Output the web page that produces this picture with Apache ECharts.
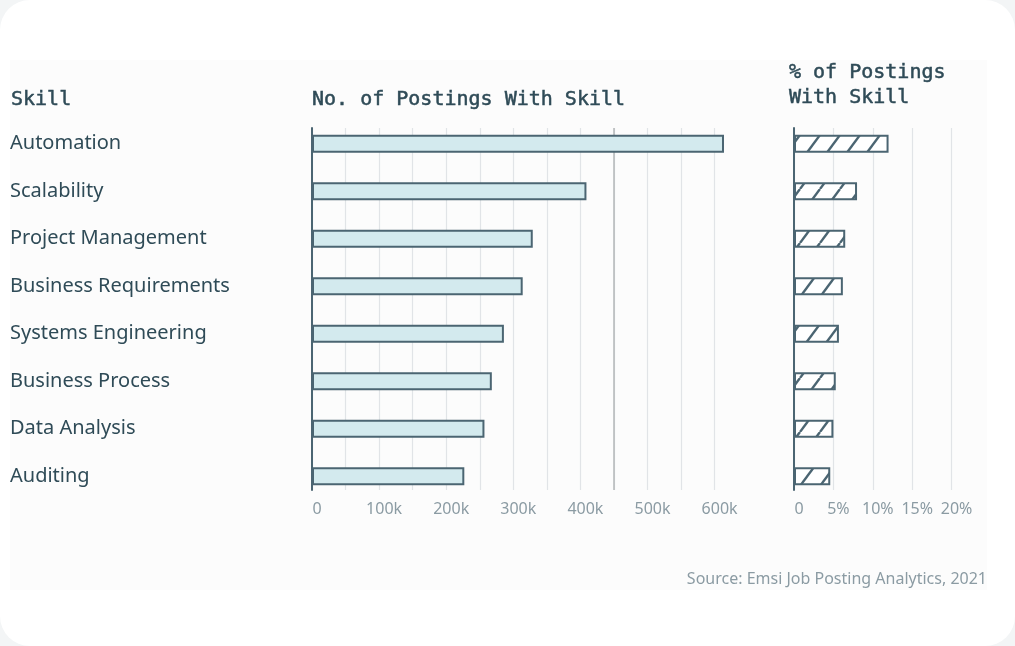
<!DOCTYPE html>
<html>
<head>
<meta charset="utf-8">
<style>
  html, body { margin: 0; padding: 0; background: #f3f5f6; }
  #chart { width: 1015px; height: 646px; background: #ffffff; border-radius: 30px; overflow: hidden; }
</style>
<script src="https://cdn.jsdelivr.net/npm/echarts@6/dist/echarts.min.js"></script>
</head>
<body>
<div id="chart"></div>
<script>
// Top in-demand skills and how many job postings ask for them
const skills = [
  'Automation',
  'Scalability',
  'Project Management',
  'Business Requirements',
  'Systems Engineering',
  'Business Process',
  'Data Analysis',
  'Auditing'
];
const postings = [614000, 409000, 329000, 314000, 286000, 268000, 257000, 227000];
const postingsShare = [12.0, 8.0, 6.5, 6.2, 5.7, 5.3, 5.0, 4.6];
const countTicks = ['0', '100k', '200k', '300k', '400k', '500k', '600k'];
const shareTicks = ['0', '5%', '10%', '15%', '20%'];
const referenceCount = 450000;

const INK = '#2f4b57';
const EDGE = '#4b6572';
const MUTED = '#8b9ba3';
const GRID = '#e1e4e7';
const SANS = '"Noto Sans", "Open Sans", sans-serif';
const MONO = '"DejaVu Sans Mono", "Liberation Mono", monospace';

// Diagonal hatch tile for the share bars
function hatchTile() {
  const c = document.createElement('canvas');
  c.width = 20; c.height = 27;
  const g = c.getContext('2d');
  g.fillStyle = '#ffffff';
  g.fillRect(0, 0, 20, 27);
  g.strokeStyle = EDGE;
  g.lineWidth = 2.4;
  [-20, 0, 20].forEach(function (x0) {
    g.beginPath();
    g.moveTo(x0, 27);
    g.lineTo(x0 + 20, 0);
    g.stroke();
  });
  return c;
}

const chart = echarts.init(document.getElementById('chart'), null, { renderer: 'canvas' });

const barTop = 120, barH = 380;      // category bands
const frameTop = 128, frameH = 362;  // axis frame + grid lines
const leftX = 312, leftW = 402.6;    // counts panel
const rightX = 794, rightW = 157.6;  // share panel

const headStyle = {
  fontFamily: MONO, fontSize: 20, fontWeight: 'normal', color: INK,
  textBorderColor: INK, textBorderWidth: 0.5, lineHeight: 25
};

const option = {
  backgroundColor: 'transparent',
  animation: false,
  graphic: [{
    type: 'rect',
    z: -10,
    shape: { x: 10, y: 60, width: 977, height: 530 },
    style: { fill: '#fcfcfc' }
  }, {
    type: 'text',
    right: 28,
    top: 571,
    style: {
      text: 'Source: Emsi Job Posting Analytics, 2021',
      font: '16px ' + SANS,
      fill: MUTED
    }
  }],
  title: [
    { text: 'Skill', left: 11, top: 87, padding: 0, textStyle: headStyle },
    { text: 'No. of Postings With Skill', left: 312, top: 87, padding: 0, textStyle: headStyle },
    { text: '% of Postings\nWith Skill', left: 789, top: 60, padding: 0, textStyle: headStyle }
  ],
  grid: [
    { left: leftX, top: barTop, width: leftW, height: barH },
    { left: leftX, top: frameTop, width: leftW, height: frameH },
    { left: rightX, top: barTop, width: rightW, height: barH },
    { left: rightX, top: frameTop, width: rightW, height: frameH }
  ],
  xAxis: [
    { gridIndex: 0, type: 'value', min: 0, max: 600000, show: false },
    { gridIndex: 1, type: 'value', min: 0, max: 600000, interval: 50000,
      axisLine: { show: false }, axisTick: { show: false },
      splitLine: { show: true, lineStyle: { color: GRID, width: 1.2 } },
      axisLabel: {
        color: MUTED, fontFamily: SANS, fontSize: 16, margin: 11, padding: [0, 0, 0, 10],
        formatter: function (v) { return v % 100000 === 0 ? countTicks[v / 100000] : ''; }
      } },
    { gridIndex: 2, type: 'value', min: 0, max: 20, show: false },
    { gridIndex: 3, type: 'value', min: 0, max: 20, interval: 5,
      axisLine: { show: false }, axisTick: { show: false },
      splitLine: { show: true, lineStyle: { color: GRID, width: 1.2 } },
      axisLabel: {
        color: MUTED, fontFamily: SANS, fontSize: 16, margin: 11, padding: [0, 0, 0, 10],
        formatter: function (v) { return shareTicks[v / 5]; }
      } }
  ],
  yAxis: [
    { gridIndex: 0, type: 'category', data: skills, inverse: true,
      axisLine: { show: false }, axisTick: { show: false },
      axisLabel: { color: INK, fontFamily: SANS, fontSize: 20, align: 'left',
        margin: leftX - 10, padding: [4, 0, 0, 0] } },
    { gridIndex: 1, type: 'value', min: 0, max: 1, splitLine: { show: false },
      axisLabel: { show: false }, axisTick: { show: false },
      axisLine: { show: true, lineStyle: { color: EDGE, width: 2 } } },
    { gridIndex: 2, type: 'category', data: skills, inverse: true, show: false },
    { gridIndex: 3, type: 'value', min: 0, max: 1, splitLine: { show: false },
      axisLabel: { show: false }, axisTick: { show: false },
      axisLine: { show: true, lineStyle: { color: EDGE, width: 2 } } }
  ],
  series: [
    { type: 'bar', xAxisIndex: 0, yAxisIndex: 0, data: postings, barWidth: 18, clip: false, z: 5,
      itemStyle: { color: '#d3eaee', borderColor: EDGE, borderWidth: 2 } },
    // darker guide line at 450k, confined to the axis frame
    { type: 'line', xAxisIndex: 1, yAxisIndex: 1, data: [], z: 1,
      markLine: {
        silent: true, symbol: 'none', label: { show: false },
        lineStyle: { color: '#b3b7b9', width: 1.5, type: 'solid' },
        data: [{ xAxis: referenceCount }]
      } },
    { type: 'bar', xAxisIndex: 2, yAxisIndex: 2, data: postingsShare, barWidth: 18, z: 5,
      itemStyle: { color: { image: hatchTile(), repeat: 'repeat' }, borderColor: EDGE, borderWidth: 2 } }
  ]
};

chart.setOption(option);
</script>
</body>
</html>
